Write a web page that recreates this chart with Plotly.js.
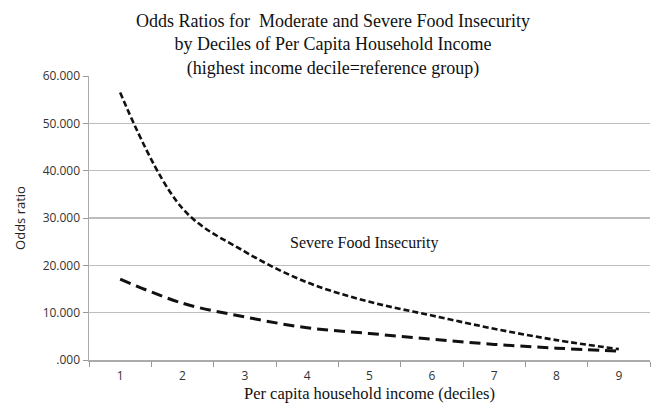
<!DOCTYPE html>
<html>
<head>
<meta charset="utf-8">
<script src="https://cdn.plot.ly/plotly-3.0.1.min.js"></script>
<style>html,body{margin:0;padding:0;background:#fff;}#chart{width:652px;height:408px;}</style>
</head>
<body>
<div id="chart"></div>
<script>
var deciles = ['1','2','3','4','5','6','7','8','9'];
var severeValues = [56.5, 32.0, 22.9, 16.4, 12.3, 9.4, 6.6, 4.2, 2.3];
var moderateValues = [17.1, 12.0, 9.1, 6.8, 5.6, 4.4, 3.3, 2.5, 1.9];
var yTickVals = [0, 10, 20, 30, 40, 50, 60];
var yTickText = ['.000', '10.000', '20.000', '30.000', '40.000', '50.000', '60.000'];
var titleLines = ['Odds Ratios for  Moderate and Severe Food Insecurity', 'by Deciles of Per Capita Household Income', '(highest income decile=reference group)'];

var serif = '"Liberation Serif", "DejaVu Serif", serif';
var sans = '"Open Sans", "Liberation Sans", sans-serif';

var traces = [
  {
    x: deciles, y: severeValues, type: 'scatter', mode: 'lines', name: 'Severe Food Insecurity',
    line: {color: '#111', width: 2.6, dash: '6px,3px', shape: 'spline', smoothing: 1}
  },
  {
    x: deciles, y: moderateValues, type: 'scatter', mode: 'lines', name: 'Moderate Food Insecurity',
    line: {color: '#111', width: 3, dash: '11px,6px', shape: 'spline', smoothing: 1}
  }
];

var layout = {
  width: 652, height: 408,
  margin: {l: 89, r: 2, t: 76, b: 48},
  paper_bgcolor: '#fff', plot_bgcolor: '#fff',
  showlegend: false,
  xaxis: {
    type: 'category',
    range: [-0.5, 8.5],
    tickson: 'boundaries',
    ticks: 'outside', ticklen: 5, tickcolor: '#999',
    showline: true, linecolor: '#aaa', linewidth: 1.5,
    showgrid: false, zeroline: false,
    ticklabelstandoff: 4,
    tickfont: {family: sans, size: 12, color: '#333'},
    title: {text: 'Per capita household income (deciles)', font: {family: serif, size: 16.5, color: '#111'}, standoff: 4}
  },
  yaxis: {
    range: [0, 60],
    tickvals: yTickVals, ticktext: yTickText,
    ticks: 'outside', ticklen: 5, tickcolor: '#999',
    showline: true, linecolor: '#aaa', linewidth: 1.5,
    showgrid: true, gridcolor: '#bdbdbd', gridwidth: 1.3,
    zeroline: false,
    tickfont: {family: sans, size: 12, color: '#333'},
    title: {text: 'Odds ratio', font: {family: sans, size: 13, color: '#222'}, standoff: 14}
  },
  annotations: [
    {
      x: 2.69, y: 24.8, xref: 'x', yref: 'y', showarrow: false,
      text: 'Severe Food Insecurity', xanchor: 'left', yanchor: 'middle',
      font: {family: serif, size: 16, color: '#111'}
    },
    {
      x: 0.435, y: 1.109, xref: 'paper', yref: 'paper', showarrow: false,
      text: titleLines.join('<br>'), xanchor: 'center', yanchor: 'middle',
      font: {family: serif, size: 18, color: '#111'}
    }
  ]
};

Plotly.newPlot('chart', traces, layout, {displayModeBar: false, staticPlot: true});
</script>
</body>
</html>
